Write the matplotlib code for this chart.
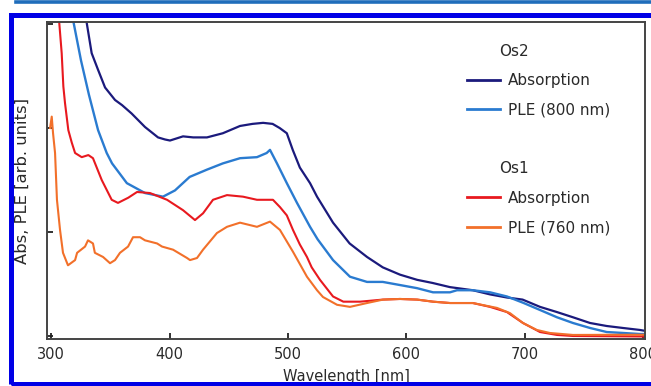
import matplotlib
matplotlib.use("Agg")
import matplotlib.pyplot as plt
from matplotlib.lines import Line2D
from matplotlib.patches import Rectangle
from matplotlib.transforms import Affine2D

# ---------------- data ----------------
os2_abs_wl = [322, 330, 334.3, 339.7, 345.6, 354, 360, 368, 379.3, 390.3, 396.2, 400.4,
              411.4, 420, 431.6, 445, 459.5, 470, 479, 487, 493, 499, 504, 510, 518.6,
              524.5, 538, 552, 566.7, 580, 594.5, 609, 622, 636.7, 656, 670.5, 684.8,
              698, 712.7, 727, 740.5, 754.9, 769, 782.7, 797, 801]
os2_abs = [3.5, 3.02, 2.72, 2.56, 2.39, 2.27, 2.22, 2.14, 2.01, 1.91, 1.89, 1.88,
           1.92, 1.91, 1.91, 1.95, 2.02, 2.04, 2.05, 2.04, 2.0, 1.95, 1.79, 1.62, 1.47,
           1.34, 1.09, 0.89, 0.76, 0.66, 0.59, 0.54, 0.51, 0.47, 0.44, 0.40, 0.37,
           0.35, 0.28, 0.23, 0.18, 0.125, 0.096, 0.077, 0.058, 0.05]

os2_ple_wl = [315, 318.6, 325.3, 332, 339.7, 347, 351.5, 364, 379.3, 394.5, 404.6, 417,
              431.6, 445, 459.5, 473.8, 482, 484.8, 490.7, 499, 507.6, 518.6, 525, 538,
              552.3, 566.7, 580, 594.5, 608.9, 622.4, 636.7, 642.6, 656, 670.5, 684.8,
              698.3, 712.7, 727, 740.5, 754.9, 769, 782.7, 797, 801]
os2_ple = [3.4, 3.04, 2.65, 2.32, 1.98, 1.76, 1.66, 1.47, 1.375, 1.34, 1.40, 1.53,
           1.60, 1.66, 1.71, 1.72, 1.76, 1.79, 1.66, 1.47, 1.28, 1.05, 0.93, 0.73,
           0.57, 0.52, 0.52, 0.49, 0.46, 0.42, 0.42, 0.44, 0.44, 0.42, 0.38,
           0.32, 0.25, 0.18, 0.125, 0.077, 0.038, 0.029, 0.019, 0.019]

os1_abs_wl = [305, 306.75, 309, 310.4, 311.8, 314.6, 317.5, 320.3, 325.9, 331.5, 335.4,
              342.8, 351.2, 356.5, 365.2, 372.6, 383.5, 397.9, 411.4, 421.5, 428.3, 436.7,
              448.5, 462, 473.8, 487.3, 493.2, 499, 504.2, 510, 516, 520, 527, 538,
              546.7, 560.8, 580, 594.5, 609, 622.4, 636.7, 656, 670.5, 684.8, 698.3,
              712.7, 727, 740.5, 801]
os1_abs = [3.5, 3.04, 2.72, 2.40, 2.24, 1.98, 1.86, 1.76, 1.72, 1.74, 1.71,
           1.50, 1.31, 1.28, 1.33, 1.385, 1.375, 1.31, 1.21, 1.115, 1.18, 1.31,
           1.355, 1.34, 1.31, 1.31, 1.24, 1.16, 1.02, 0.88, 0.76, 0.66, 0.54, 0.38,
           0.33, 0.33, 0.35, 0.356, 0.35, 0.33, 0.317, 0.317, 0.28, 0.23, 0.125,
           0.038, 0.01, 0.0, -0.005]

os1_ple_wl = [299.2, 300.6, 301.7, 303.4, 305, 307.6, 310.1, 314.3, 320.3, 322, 328.7,
              331.2, 335.4, 337, 343.9, 349.8, 354, 358.2, 365, 369.2, 375.1, 379.3,
              389.5, 393.7, 403, 414.8, 417.3, 423.2, 428.3, 440, 448.5, 459.5, 473.8,
              484.8, 493.2, 504.2, 516, 524.5, 529.5, 541.4, 552.3, 566.7, 580.2, 594.5,
              609, 622.4, 636.7, 656, 676.4, 687.3, 698.3, 710, 721, 740.5, 801]
os1_ple = [2.0, 2.11, 1.95, 1.76, 1.31, 1.02, 0.80, 0.68, 0.73, 0.80, 0.86,
           0.92, 0.89, 0.80, 0.76, 0.70, 0.73, 0.80, 0.86, 0.95, 0.95, 0.92,
           0.89, 0.86, 0.83, 0.75, 0.73, 0.75, 0.83, 0.99, 1.05, 1.09, 1.05,
           1.10, 1.02, 0.81, 0.57, 0.44, 0.375, 0.30, 0.28, 0.317, 0.35, 0.356,
           0.35, 0.33, 0.317, 0.317, 0.27, 0.22, 0.125, 0.058, 0.029, 0.01, 0.012]

x_ticks = [300, 400, 500, 600, 700, 800]
y_ticks = [0, 1, 2, 3]
group_titles = ["Os2", "Os1"]
series_labels = ["Absorption", "PLE (800 nm)", "Absorption", "PLE (760 nm)"]

# ---------------- figure ----------------
W, H = 651, 386
fig = plt.figure(figsize=(W / 100, H / 100), dpi=100)
fig.patch.set_facecolor("white")

ax_l, ax_r, ax_t, ax_b = 47, 645, 22, 339
ax = fig.add_axes([ax_l / W, (H - ax_b) / H, (ax_r - ax_l) / W, (ax_b - ax_t) / H])

c_navy = "#1b1a7c"
c_blue = "#2a7bd0"
c_red = "#e8191f"
c_orange = "#f2702a"

l_navy, = ax.plot(os2_abs_wl, os2_abs, color=c_navy, lw=1.6)
l_blue, = ax.plot(os2_ple_wl, os2_ple, color=c_blue, lw=1.7)
l_red, = ax.plot(os1_abs_wl, os1_abs, color=c_red, lw=1.5)
l_orange, = ax.plot(os1_ple_wl, os1_ple, color=c_orange, lw=1.5)

ax.set_xlim(296.6, 801.3)
ax.set_ylim(-0.029, 3.02)
ax.set_xticks(x_ticks)
ax.set_xticklabels([str(t) for t in x_ticks])
ax.set_yticks(y_ticks)
ax.set_yticklabels([])
ax.tick_params(axis="both", direction="in", length=4, width=1.3, color="#222222",
               labelsize=10.5, labelcolor="#2a2a2a", pad=5.5)
for s in ax.spines.values():
    s.set_color("#444444")
    s.set_linewidth(1.4)

ax.set_xlabel("Wavelength [nm]", fontsize=10.5, color="#2a2a2a", labelpad=5.5)
ax.set_ylabel("Abs, PLE [arb. units]", fontsize=11.8, color="#2a2a2a")
ax.yaxis.set_label_coords(-0.029, 0.5)

# legend with group headers
blank = Line2D([], [], color="none")
handles = [blank, l_navy, l_blue, blank, blank, l_red, l_orange]
labels = [group_titles[0], series_labels[0], series_labels[1], "",
          group_titles[1], series_labels[2], series_labels[3]]
leg = ax.legend(handles, labels, loc="upper left",
                bbox_to_anchor=((467 - ax_l) / (ax_r - ax_l), (ax_b - 44) / (ax_b - ax_t)),
                frameon=False, fontsize=11, borderpad=0, borderaxespad=0,
                handlelength=2.16, handletextpad=0.52, labelspacing=0.94)
for lh in leg.get_lines():
    lh.set_linewidth(2.0)
for i, t in enumerate(leg.get_texts()):
    t.set_color("#2a2a2a")
    if i in (0, 4):
        t.set_transform(t.get_transform() + Affine2D().translate(-9, 0))

# page decorations (thin top rule and blue frame)
fig.add_artist(Line2D([16 / W, 1.0], [(H - 2) / H, (H - 2) / H],
                      transform=fig.transFigure, color="#1f6dbb", lw=2.6))
fig.add_artist(Rectangle((10.5 / W, (H - 384) / H), (670 - 10.5) / W, (384 - 15) / H,
                         transform=fig.transFigure, fill=False, edgecolor="#0000e6",
                         lw=3.6, clip_on=False))

fig.savefig("out.png", dpi=100)
